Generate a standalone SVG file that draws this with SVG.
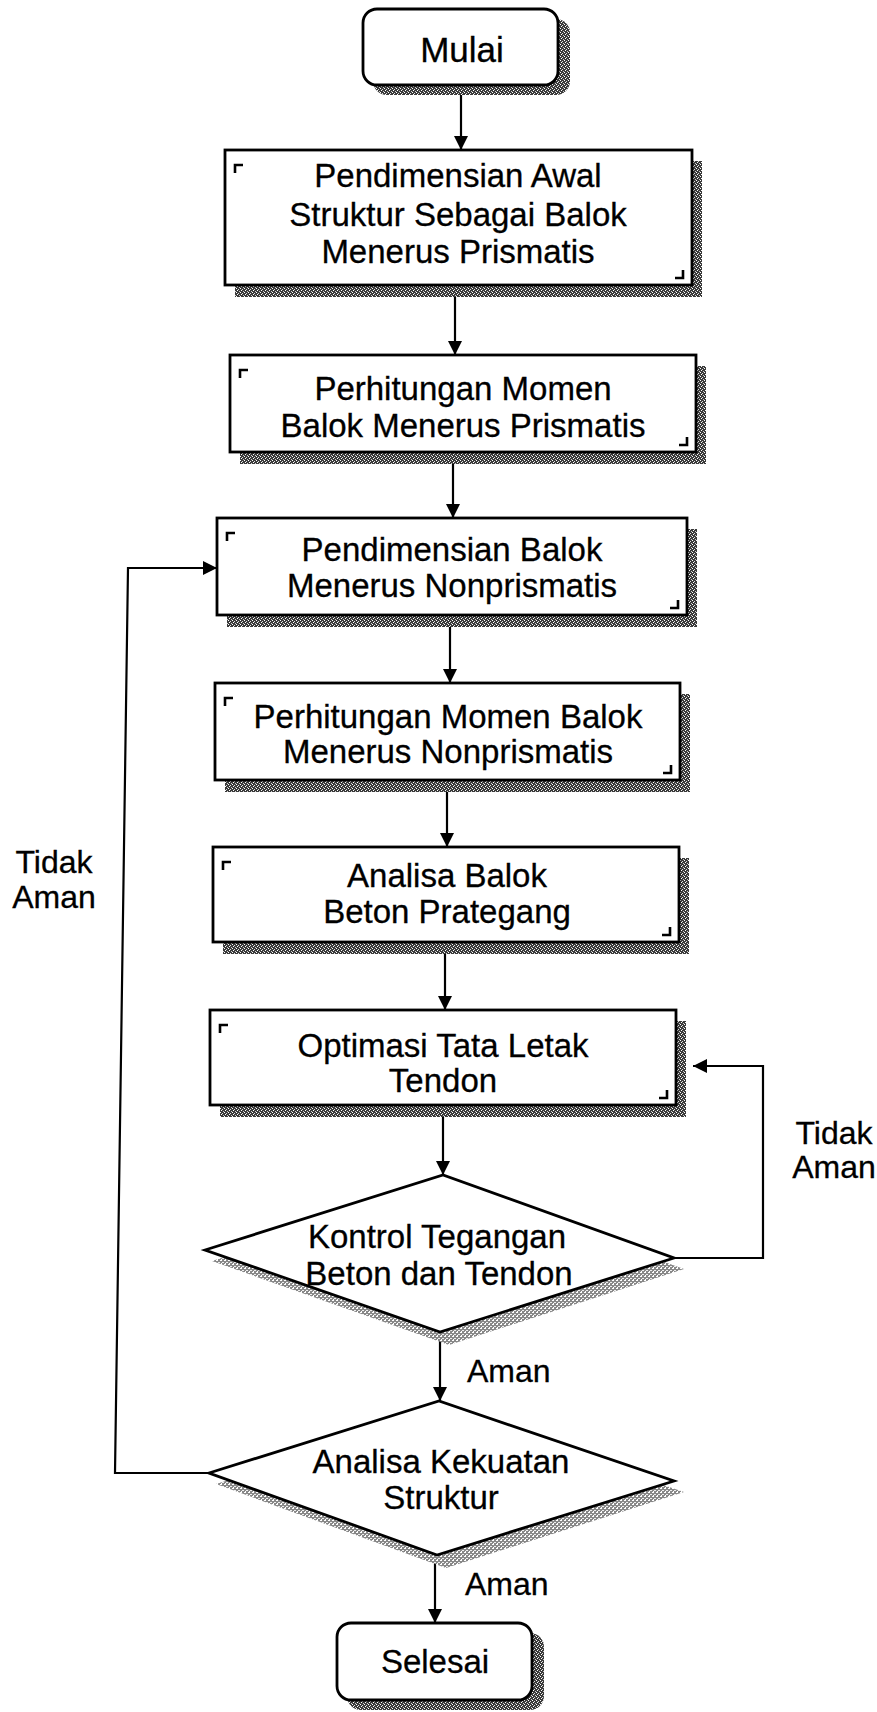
<svg xmlns="http://www.w3.org/2000/svg" width="877" height="1712" viewBox="0 0 877 1712">
<style>
  .box { fill: #fff; stroke: #000; stroke-width: 2.8; }
  .sh { fill: url(#stip); stroke: none; }
  .dsh { fill: url(#stip2); stroke: none; }
  .mark { fill: none; stroke: #000; stroke-width: 2.6; }
  .t { font-family: "Liberation Sans", Arial, sans-serif; font-size: 33px; fill: #000; stroke: #000; stroke-width: 0.3; text-anchor: middle; }
  .lbl { font-family: "Liberation Sans", Arial, sans-serif; font-size: 32px; fill: #000; stroke: #000; stroke-width: 0.3; }
  .c { fill: none; stroke: #000; stroke-width: 2.2; }
</style>
<defs>
  <pattern id="stip" width="4" height="4" patternUnits="userSpaceOnUse">
    <rect width="4" height="4" fill="#3a3a3a"/>
    <rect x="0" y="0" width="1" height="1" fill="#fff"/>
    <rect x="2" y="1" width="1" height="1" fill="#ddd"/>
    <rect x="1" y="2" width="1" height="1" fill="#fff"/>
    <rect x="3" y="3" width="1" height="1" fill="#ccc"/>
  </pattern>
  <pattern id="stip2" width="4" height="4" patternUnits="userSpaceOnUse">
    <rect width="4" height="4" fill="#888"/>
    <rect x="0" y="0" width="2" height="1" fill="#fff"/>
    <rect x="2" y="2" width="2" height="1" fill="#eee"/>
    <rect x="1" y="3" width="1" height="1" fill="#fff"/>
  </pattern>
  <marker id="arr" viewBox="0 0 14 14" refX="14" refY="7" markerWidth="14" markerHeight="14" markerUnits="userSpaceOnUse" orient="auto">
    <path d="M0,0 L14,7 L0,14 Z" fill="#000"/>
  </marker>
</defs>

<g id="connectors">
  <line class="c" x1="461" y1="85" x2="461" y2="150" marker-end="url(#arr)"/>
  <line class="c" x1="455" y1="285" x2="455" y2="355" marker-end="url(#arr)"/>
  <line class="c" x1="453" y1="452" x2="453" y2="518" marker-end="url(#arr)"/>
  <line class="c" x1="450" y1="615" x2="450" y2="683" marker-end="url(#arr)"/>
  <line class="c" x1="447" y1="780" x2="447" y2="847" marker-end="url(#arr)"/>
  <line class="c" x1="445" y1="942" x2="445" y2="1010" marker-end="url(#arr)"/>
  <line class="c" x1="443" y1="1105" x2="443" y2="1175" marker-end="url(#arr)"/>
  <line class="c" x1="440" y1="1332" x2="440" y2="1401" marker-end="url(#arr)"/>
  <line class="c" x1="435" y1="1555" x2="435" y2="1623" marker-end="url(#arr)"/>
  <polyline class="c" points="674,1258 763,1258 763,1066 693,1066" marker-end="url(#arr)"/>
  <polyline class="c" points="209,1473 115,1473 128,568 217,568" marker-end="url(#arr)"/>
  <text class="lbl" x="54" y="873" text-anchor="middle">Tidak</text>
  <text class="lbl" x="54" y="908" text-anchor="middle">Aman</text>
  <text class="lbl" x="834" y="1144" text-anchor="middle">Tidak</text>
  <text class="lbl" x="834" y="1178" text-anchor="middle">Aman</text>
  <text class="lbl" x="467" y="1382">Aman</text>
  <text class="lbl" x="465" y="1595">Aman</text>
</g>

<g id="mulai">
  <rect class="sh" x="373" y="19" width="197" height="76" rx="14"/>
  <rect class="box" x="363" y="9" width="195" height="76" rx="14"/>
  <text class="t" x="462" y="62" style="font-size:35px">Mulai</text>
</g>

<g id="box1">
  <rect class="sh" x="235" y="161" width="467" height="136"/>
  <rect class="box" x="225" y="150" width="467" height="135"/>
  <path class="mark" d="M235,173 V165 H243 M683,270 V278 H675"/>
  <text class="t" x="458" y="187">Pendimensian Awal</text>
  <text class="t" x="458" y="226">Struktur Sebagai Balok</text>
  <text class="t" x="458" y="263">Menerus Prismatis</text>
</g>

<g id="box2">
  <rect class="sh" x="240" y="366" width="466" height="98"/>
  <rect class="box" x="230" y="355" width="466" height="97"/>
  <path class="mark" d="M240,378 V370 H248 M687,437 V445 H679"/>
  <text class="t" x="463" y="400">Perhitungan Momen</text>
  <text class="t" x="463" y="437">Balok Menerus Prismatis</text>
</g>

<g id="box3">
  <rect class="sh" x="227" y="529" width="470" height="98"/>
  <rect class="box" x="217" y="518" width="470" height="97"/>
  <path class="mark" d="M227,541 V533 H235 M678,600 V608 H670"/>
  <text class="t" x="452" y="561">Pendimensian Balok</text>
  <text class="t" x="452" y="597">Menerus Nonprismatis</text>
</g>

<g id="box4">
  <rect class="sh" x="225" y="694" width="465" height="98"/>
  <rect class="box" x="215" y="683" width="465" height="97"/>
  <path class="mark" d="M225,706 V698 H233 M671,765 V773 H663"/>
  <text class="t" x="448" y="728">Perhitungan Momen Balok</text>
  <text class="t" x="448" y="763">Menerus Nonprismatis</text>
</g>

<g id="box5">
  <rect class="sh" x="223" y="858" width="466" height="96"/>
  <rect class="box" x="213" y="847" width="466" height="95"/>
  <path class="mark" d="M223,870 V862 H231 M670,927 V935 H662"/>
  <text class="t" x="447" y="887">Analisa Balok</text>
  <text class="t" x="447" y="923">Beton Prategang</text>
</g>

<g id="box6">
  <rect class="sh" x="220" y="1021" width="466" height="96"/>
  <rect class="box" x="210" y="1010" width="466" height="95"/>
  <path class="mark" d="M220,1033 V1025 H228 M667,1090 V1098 H659"/>
  <text class="t" x="443" y="1057">Optimasi Tata Letak</text>
  <text class="t" x="443" y="1092">Tendon</text>
</g>

<g id="diamond1">
  <polygon class="dsh" points="212,1261 450,1186 684,1269 449,1345"/>
  <polygon class="box" points="205,1250 443,1175 674,1258 440,1332"/>
  <text class="t" x="437" y="1248">Kontrol Tegangan</text>
  <text class="t" x="439" y="1285">Beton dan Tendon</text>
</g>

<g id="diamond2">
  <polygon class="dsh" points="216,1484 446,1412 684,1492 446,1568"/>
  <polygon class="box" points="209,1473 439,1401 674,1481 437,1555"/>
  <text class="t" x="441" y="1473">Analisa Kekuatan</text>
  <text class="t" x="441" y="1509">Struktur</text>
</g>

<g id="selesai">
  <rect class="sh" x="347" y="1633" width="197" height="77" rx="14"/>
  <rect class="box" x="337" y="1623" width="195" height="77" rx="14"/>
  <text class="t" x="435" y="1673">Selesai</text>
</g>
</svg>
